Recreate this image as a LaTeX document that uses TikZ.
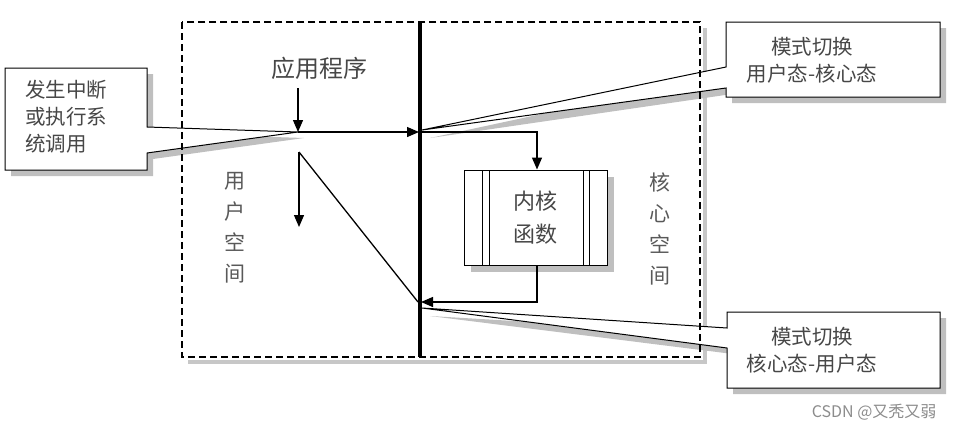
\documentclass[tikz,border=0pt]{standalone}
\usepackage{fontspec}
\newfontfamily\cjk{Noto Sans CJK SC}
\usetikzlibrary{arrows.meta}
\begin{document}
\begin{tikzpicture}[x=1pt,y=-1pt,
  txt/.style={font=\cjk\fontsize{20.5}{27}\selectfont, text=black!72, inner sep=0pt},
  vtxt/.style={font=\cjk\fontsize{21}{31}\selectfont, text=black!65, inner sep=0pt, align=center},
  arr/.style={-{Triangle[length=12pt,width=10pt]}, line width=1.3pt},
  thin/.style={line width=1.3pt},
  shade/.style={fill=black!25, draw=none},
  callout/.style={fill=white, draw=black, line width=1pt},
  dbox/.style={line width=1.3pt, dash pattern=on 7pt off 4pt},
  kbox/.style={draw=black, fill=white, line width=1pt, minimum width=143pt, minimum height=95pt, inner sep=0pt},
  ]
\useasboundingbox (0,0) rectangle (953,432);

% dashed region with shadow
\draw[black!22, line width=4pt] (705,28) -- (705,362) -- (188,362);
\draw[dbox] (182,22) rectangle (700,357);

% left callout
\begin{scope}[shift={(6,6)}]
\fill[shade] (5,68) -- (147,68) -- (147,127) -- (298,132) -- (147,153) -- (147,170) -- (5,170) -- cycle;
\end{scope}
\draw[callout] (5,68) -- (147,68) -- (147,127) -- (298,132) -- (147,153) -- (147,170) -- (5,170) -- cycle;
\node[txt, anchor=north west, align=left] (intr) at (25,80) {发生中断\\或执行系\\统调用};

% top right callout
\begin{scope}[shift={(6,6)}]
\fill[shade] (726,22) -- (940,22) -- (940,97) -- (726,97) -- (726,88) -- (424,132) -- (726,67) -- cycle;
\end{scope}
\draw[callout] (726,22) -- (940,22) -- (940,97) -- (726,97) -- (726,88) -- (422,130) -- (726,67) -- cycle;
\node[txt, align=center] (m1) at (812,60) {模式切换\\用户态-核心态};

% bottom right callout
\begin{scope}[shift={(6,6)}]
\fill[shade] (727,312) -- (940,312) -- (940,388) -- (727,388) -- (727,348) -- (424,310) -- (727,328) -- cycle;
\end{scope}
\draw[callout] (727,312) -- (940,312) -- (940,388) -- (727,388) -- (727,348) -- (422,308) -- (727,328) -- cycle;
\node[txt, align=center] (m2) at (812,350) {模式切换\\核心态-用户态};

% redraw dashed edges over the pointers
\draw[dbox] (182,22) rectangle (700,357);

% kernel / user boundary
\draw[line width=4pt] (420,22) -- (420,357);

% texts
\node[txt, font=\cjk\fontsize{24}{27}\selectfont] (app) at (319,68) {应用程序};
\node[vtxt] (user) at (235,228) {用\\户\\空\\间};
\node[vtxt] (kspace) at (660,229) {核\\心\\空\\间};

% kernel function box
\fill[shade] (471,177) rectangle (614,272);
\node[kbox] (kern) at (535.5,217.5) {};
\draw[line width=1pt] (482,170) -- (482,265) (489,170) -- (489,265)
                      (583,170) -- (583,265) (589,170) -- (589,265);
\node[txt, align=center, font=\cjk\fontsize{22}{33}\selectfont] (kname) at (kern.center) {内核\\函数};

% coordinates
\coordinate (a0) at (298,88);
\coordinate (a1) at (298,132);
\coordinate (b0) at (299,152);
\coordinate (b1) at (299,227);
\coordinate (t1) at (419,132);
\coordinate (t2) at (421,132);
\coordinate (c1) at (537,132);
\coordinate (r1) at (537,302);
\coordinate (t3) at (421,302);
\coordinate (t4) at (418,302);

% arrows
\draw[arr] (a0) -- (a1);
\draw[arr] (a1) -- (t1);
\draw[arr] (t2) -- (c1) -- (kern.north -| c1);
\draw[arr] (kern.south -| c1) -- (r1) -- (t3);
\draw[thin] (b0) -- (t4);
\draw[arr] (b0) -- (b1);

% watermark
\node[font=\cjk\fontsize{16}{18}\selectfont, text=black!45, anchor=east] (wm) at (940,412) {CSDN @又秃又弱};
\end{tikzpicture}
\end{document}
